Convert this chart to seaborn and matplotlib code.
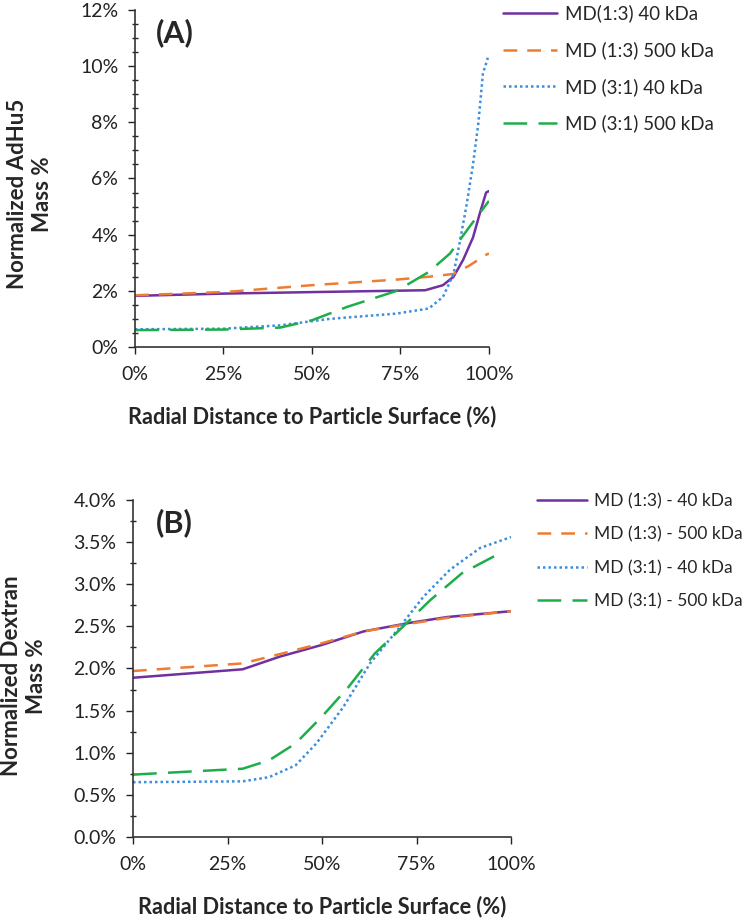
import pandas as pd
import numpy as np
import matplotlib
matplotlib.use('Agg')
import matplotlib.pyplot as plt
from matplotlib.ticker import MultipleLocator, PercentFormatter
import seaborn as sns

sns.set_style('ticks')
plt.rcParams['font.family'] = ['Lato', 'DejaVu Sans']

# panel A - AdHu5 mass (%), x = radial distance (%)
a_names = ['MD(1:3) 40 kDa', 'MD (1:3) 500 kDa', 'MD (3:1) 40 kDa', 'MD (3:1) 500 kDa']
a_x1 = [0, 25, 53, 82, 87, 90, 92.7, 95.5, 97.4, 99.2, 100]
a_y1 = [1.82, 1.9, 1.96, 2.02, 2.2, 2.5, 3.1, 3.9, 4.75, 5.5, 5.55]
a_x2 = [0, 25.9, 50, 74, 83, 90, 94.5, 99, 100]
a_y2 = [1.84, 1.96, 2.2, 2.4, 2.5, 2.6, 2.9, 3.27, 3.33]
a_x3 = [0, 25, 41, 55, 74, 83, 87, 90, 91.7, 93.6, 95.5, 97, 98.3, 99.7]
a_y3 = [0.63, 0.65, 0.77, 1.0, 1.19, 1.37, 1.78, 2.6, 3.7, 5.0, 6.5, 7.96, 9.74, 10.3]
a_x4 = [0, 25, 41, 50, 60, 74, 83, 89, 94.5, 100]
a_y4 = [0.6, 0.62, 0.69, 0.95, 1.43, 2.0, 2.67, 3.33, 4.28, 5.2]

# panel B - dextran mass (%)
b_names = ['MD (1:3) - 40 kDa', 'MD (1:3) - 500 kDa', 'MD (3:1) - 40 kDa', 'MD (3:1) - 500 kDa']
b_x1 = [0, 29, 38.8, 50, 61, 73, 83, 100]
b_y1 = [1.89, 1.99, 2.14, 2.28, 2.44, 2.54, 2.61, 2.68]
b_x2 = [0, 29, 38.8, 50, 61, 73, 83, 100]
b_y2 = [1.97, 2.06, 2.17, 2.3, 2.44, 2.53, 2.6, 2.68]
b_x3 = [0, 29, 36, 43, 48.5, 55.6, 62.7, 70, 76.8, 83.8, 91.8, 100]
b_y3 = [0.65, 0.66, 0.71, 0.85, 1.11, 1.54, 2.06, 2.46, 2.85, 3.17, 3.43, 3.56]
b_x4 = [0, 29, 36, 43, 50, 57, 64, 71.5, 78.6, 87, 98]
b_y4 = [0.74, 0.81, 0.91, 1.11, 1.43, 1.78, 2.18, 2.5, 2.81, 3.13, 3.39]

colors = ['#7030A0', '#ED7D31', '#3A8EDC', '#1EAD4B']
dash_styles = ['', (5.5, 4), (1, 1.2), (9.5, 4.5)]


def make_df(names, xs, ys):
    parts = []
    for n, x, y in zip(names, xs, ys):
        parts.append(pd.DataFrame({'x': x, 'y': y, 'series': n}))
    return pd.concat(parts, ignore_index=True)


def draw(ax, df, names, ymax, major, minor, yfmt, label, label_pos, tag,
         leg_pos, leg_size):
    sns.lineplot(data=df, x='x', y='y', hue='series', style='series',
                 hue_order=names, style_order=names,
                 palette=dict(zip(names, colors)),
                 dashes=dict(zip(names, dash_styles)),
                 linewidth=1.8, ax=ax, sort=False, legend=True)
    ax.set_xlim(0, 100)
    ax.set_ylim(0, ymax)
    ax.xaxis.set_major_locator(MultipleLocator(25))
    ax.xaxis.set_major_formatter(PercentFormatter(decimals=0))
    ax.yaxis.set_major_locator(MultipleLocator(major))
    ax.yaxis.set_minor_locator(MultipleLocator(minor))
    ax.yaxis.set_major_formatter(PercentFormatter(decimals=yfmt))
    ax.tick_params(axis='both', labelsize=14, colors='#222222', length=5, width=1)
    ax.tick_params(axis='y', which='minor', direction='inout', length=5, width=1)
    ax.tick_params(axis='x', pad=9)
    ax.tick_params(axis='y', pad=7)
    for s in ['left', 'bottom']:
        ax.spines[s].set_color('#333333')
        ax.spines[s].set_linewidth(1.2)
    sns.despine(ax=ax)
    ax.set_xlabel('Radial Distance to Particle Surface (%)', fontsize=15.7,
                  fontweight='bold', labelpad=16)
    ax.set_ylabel(label, fontsize=16, fontweight='bold', linespacing=1.25)
    ax.yaxis.set_label_coords(*label_pos)
    ax.text(0.06, 0.975, tag, transform=ax.transAxes, fontsize=22,
            fontweight='bold', va='top', ha='left')
    h, l = ax.get_legend_handles_labels()
    ax.legend(h, l, loc='upper left', bbox_to_anchor=leg_pos,
              bbox_transform=ax.figure.transFigure, frameon=False,
              fontsize=leg_size, handlelength=2.9, labelspacing=1.0,
              handletextpad=0.4, borderpad=0, borderaxespad=0)


fig = plt.figure(figsize=(7.49, 9.24), dpi=100)
ax_a = fig.add_axes([0.1802, 0.6245, 0.4726, 0.3647])
ax_b = fig.add_axes([0.1776, 0.0942, 0.5047, 0.3647])

df_a = make_df(a_names, [a_x1, a_x2, a_x3, a_x4], [a_y1, a_y2, a_y3, a_y4])
df_b = make_df(b_names, [b_x1, b_x2, b_x3, b_x4], [b_y1, b_y2, b_y3, b_y4])

draw(ax_a, df_a, a_names, 12, 2, 0.5, 0, 'Normalized AdHu5\nMass %',
     (-0.232, 0.454), '(A)', (0.6716, 0.995), 13.5)
draw(ax_b, df_b, b_names, 4, 0.5, 0.25, 1, 'Normalized Dextran\nMass %',
     (-0.228, 0.478), '(B)', (0.717, 0.4665), 12.5)

fig.savefig('out.png', dpi=100)
